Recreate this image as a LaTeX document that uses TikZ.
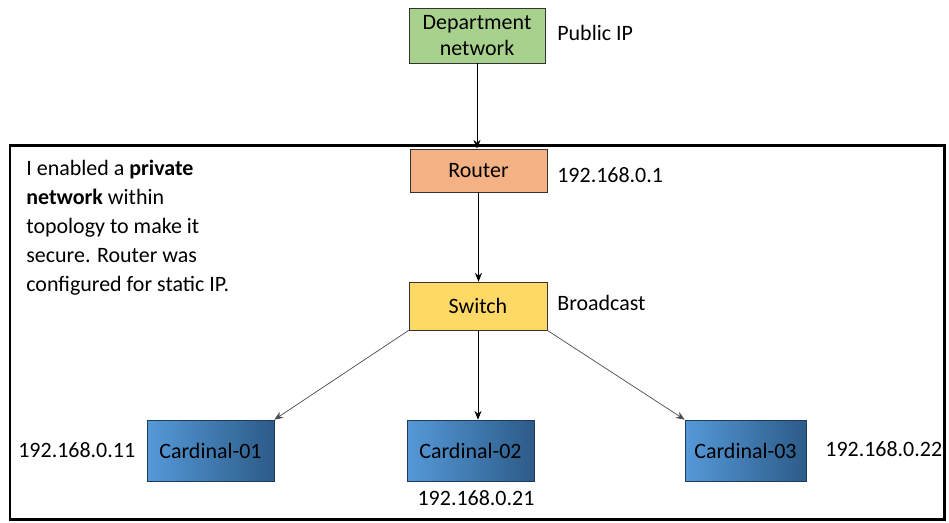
\documentclass[tikz,border=0pt]{standalone}
\usepackage{fontspec}
\setmainfont{Carlito}
\usetikzlibrary{arrows.meta}
\usetikzlibrary{positioning}

\definecolor{deptgreen}{HTML}{A9D18E}
\definecolor{routerorange}{HTML}{F4B183}
\definecolor{switchyellow}{HTML}{FFD966}
\definecolor{cardlight}{HTML}{5599D8}
\definecolor{carddark}{HTML}{2C5B88}
\definecolor{cardedge}{HTML}{1F3A5C}

\begin{document}
\begin{tikzpicture}[x=0.02cm,y=-0.02cm,
  box/.style={rectangle,draw=black!80,thin,inner sep=0pt,font=\fontsize{12.5}{15}\selectfont},
  hostbox/.style={box,draw=cardedge,left color=cardlight,right color=carddark,minimum width=2.54cm,minimum height=1.22cm},
  iplabel/.style={font=\fontsize{12.5}{15}\selectfont,inner sep=0pt},
  link/.style={-{Stealth[length=5pt,width=4pt]},thin,black},
  dlink/.style={link,black!70}]
\useasboundingbox (0,0) rectangle (949,522);

\draw[line width=1.7pt] (10,145) rectangle (944,519);

\node[box,fill=deptgreen,minimum width=2.72cm,minimum height=1.1cm,align=center] (dept) at (477,35.5) {Department\\network};
\node[iplabel,anchor=west] (pubip) at (557,33) {Public IP};

\node[box,fill=routerorange,minimum width=2.74cm,minimum height=0.86cm] (router) at (478.5,170.5) {Router};
\node[iplabel,anchor=west] (routerip) at (557,175) {192.168.0.1};

\node[box,fill=switchyellow,minimum width=2.76cm,minimum height=0.96cm] (switch) at (478,306) {Switch};
\node[iplabel,anchor=west] (bcast) at (557,303) {Broadcast};

\node[hostbox] (card1) at (210.5,450.5) {Cardinal-01};
\node[hostbox] (card2) at (470.5,450.5) {Cardinal-02};
\node[hostbox,minimum width=2.42cm] (card3) at (745.5,450.5) {Cardinal-03};

\node[iplabel,anchor=west] (ip1) at (18,450) {192.168.0.11};
\node[iplabel] (ip2) at (476,498) {192.168.0.21};
\node[iplabel,anchor=west] (ip3) at (825,449) {192.168.0.22};

\node[anchor=north west,inner sep=0pt,align=left,font=\fontsize{12.5}{16.4}\selectfont] (note) at (26,160)
  {I enabled a \textbf{private}\\\textbf{network} within\\topology to make it\\secure. Router was\\configured for static IP.};

\draw[link] (dept.south) -- (dept.south |- router.north);
\draw[link] (router.south) -- (router.south |- switch.north);
\draw[dlink] (switch.south west) -- (card1.north east);
\draw[link] (switch.south) -- (switch.south |- card2.north);
\draw[dlink] (switch.south east) -- (card3.north west);

\end{tikzpicture}
\end{document}
